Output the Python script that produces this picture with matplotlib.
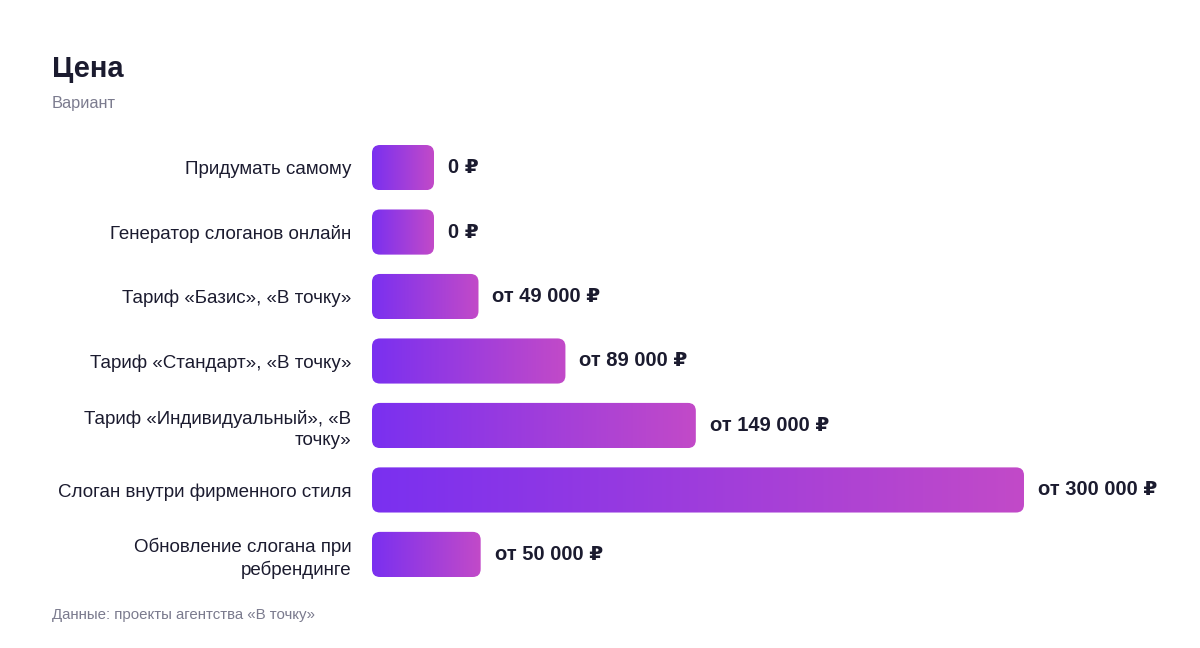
import numpy as np
import matplotlib
matplotlib.use('Agg')
import matplotlib.pyplot as plt
from matplotlib.patches import FancyBboxPatch
from matplotlib.colors import LinearSegmentedColormap

# ── Data ──────────────────────────────────────────────────────
categories = ['Придумать самому',
              'Генератор слоганов онлайн',
              'Тариф «Базис», «В точку»',
              'Тариф «Стандарт», «В точку»',
              'Тариф «Индивидуальный», «В\nточку»',
              'Слоган внутри фирменного стиля',
              'Обновление слогана при\nребрендинге']
prices = [0, 0, 49000, 89000, 149000, 300000, 50000]
value_labels = ['0 ₽', '0 ₽', 'от 49 000 ₽', 'от 89 000 ₽',
                'от 149 000 ₽', 'от 300 000 ₽', 'от 50 000 ₽']

# ── Style ─────────────────────────────────────────────────────
DARK = '#1b1b2f'
GREY = '#7b7b8e'
C_LEFT = '#7a30f0'
C_RIGHT = '#c24ac8'
FONT = ['Liberation Sans', 'DejaVu Sans']
plt.rcParams['font.family'] = FONT

W, H = 1200, 648
fig = plt.figure(figsize=(W / 100, H / 100), dpi=100)
fig.patch.set_facecolor('white')

# axes box in pixels: x 372..1024, y 145..577
ax_l, ax_r, ax_t, ax_b = 372, 1024, 145, 577
ax = fig.add_axes([ax_l / W, 1 - ax_b / H, (ax_r - ax_l) / W, (ax_b - ax_t) / H])

xmax = 300000
bar_h = 0.70
n = len(categories)
ax.set_xlim(0, xmax)
ax.set_ylim(n - 1 + bar_h / 2, -bar_h / 2)

x_per_px = xmax / (ax_r - ax_l)
y_per_px = (n - 1 + bar_h) / (ax_b - ax_t)
min_w = 62 * x_per_px          # zero-value bars still get a small stub
radius = 8 * x_per_px

cmap = LinearSegmentedColormap.from_list('grad', [C_LEFT, C_RIGHT])
grad = np.linspace(0, 1, 256).reshape(1, -1)

for i, (v, lab) in enumerate(zip(prices, value_labels)):
    w = max(v, min_w)
    patch = FancyBboxPatch((0, i - bar_h / 2), w, bar_h,
                           boxstyle=f'round,pad=0,rounding_size={radius}',
                           mutation_aspect=y_per_px / x_per_px,
                           facecolor='none', edgecolor='none')
    ax.add_patch(patch)
    im = ax.imshow(grad, cmap=cmap, aspect='auto',
                   extent=[0, w, i + bar_h / 2, i - bar_h / 2],
                   interpolation='bilinear', zorder=2)
    im.set_clip_path(patch)
    ax.text(w + 14 * x_per_px, i, lab, ha='left', va='center',
            fontsize=14.5, fontweight='bold', color=DARK, clip_on=False)

ax.set_xlim(0, xmax)
ax.set_ylim(n - 1 + bar_h / 2, -bar_h / 2)
ax.set_yticks(range(n))
ax.set_yticklabels(categories, fontsize=13.5, color=DARK, linespacing=1.3)
ax.tick_params(axis='y', length=0, pad=15)
ax.set_xticks([])
for s in ax.spines.values():
    s.set_visible(False)

# ── Titles & footer ───────────────────────────────────────────
fig.text(52 / W, 1 - 77 / H, 'Цена', fontsize=21, fontweight='bold',
         color=DARK, ha='left', va='baseline')
fig.text(52 / W, 1 - 108 / H, 'Вариант', fontsize=11.8, color=GREY,
         ha='left', va='baseline')
fig.text(52 / W, 1 - 619 / H, 'Данные: проекты агентства «В точку»',
         fontsize=10.8, color=GREY, ha='left', va='baseline')

fig.savefig('out.png', dpi=100, facecolor='white')
